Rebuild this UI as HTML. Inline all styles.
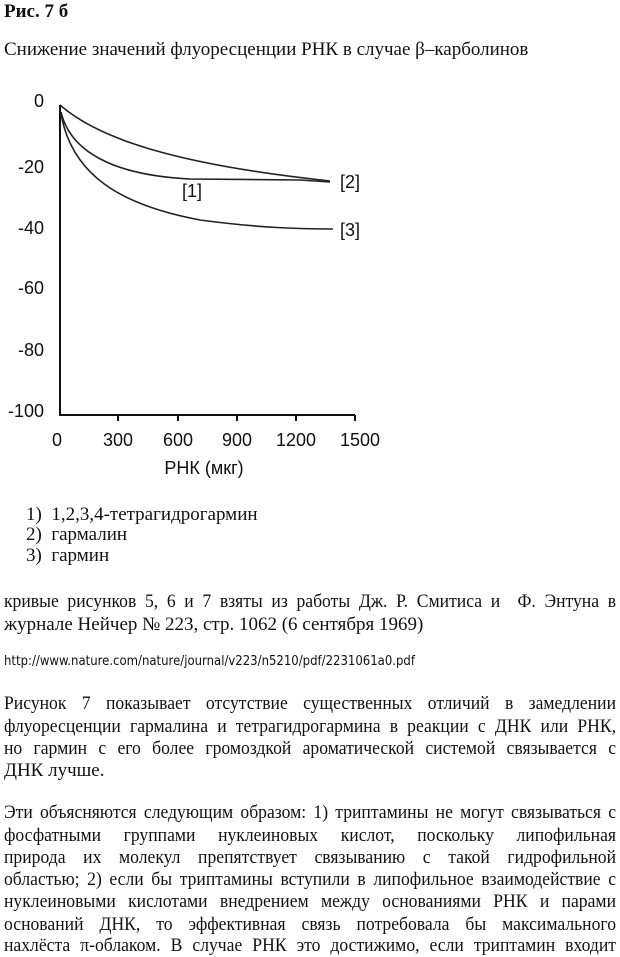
<!DOCTYPE html>
<html><head><meta charset="utf-8"><style>
body{margin:0;width:620px;height:950px;background:#fff;overflow:hidden;position:relative;font-family:"Liberation Serif","DejaVu Serif",serif;color:#111}
.l{position:absolute;left:4px;width:612px;font-size:19px;line-height:22px;white-space:nowrap}
.j{text-align:justify;text-align-last:justify;white-space:normal;width:660px;transform:scaleX(0.9273);transform-origin:0 0;height:22px;overflow:hidden}
svg{position:absolute;left:0;top:0}
</style></head><body>
<div class="l" style="top:1px;font-weight:bold">Рис. 7 б</div>
<div class="l" style="top:39px">Снижение значений флуоресценции РНК в случае β–карболинов</div>
<svg width="620" height="490" font-family="Liberation Sans, Arial, sans-serif" font-size="18" fill="#111">
<g stroke="#111" stroke-width="2" fill="none">
<path d="M60,105 V415 H355"/>
<path d="M118,415v6M178,415v6M237,415v6M296,415v6M355,415v6"/>
</g>
<g stroke="#222" stroke-width="1.6" fill="none">
<path d="M60,105 C100,140 180,165 330,181"/>
<path d="M61,112 C70,150 110,175 190,179 L300,180 L330,182"/>
<path d="M61,114 C72,175 120,205 200,220 C260,228 300,229 333,229"/>
</g>
<g text-anchor="end">
<text x="44" y="107">0</text><text x="44" y="173">-20</text><text x="44" y="234">-40</text>
<text x="44" y="294">-60</text><text x="44" y="356">-80</text><text x="44" y="417">-100</text>
</g>
<g text-anchor="middle">
<text x="57" y="446">0</text><text x="118" y="446">300</text><text x="178" y="446">600</text>
<text x="237" y="446">900</text><text x="296" y="446">1200</text><text x="360" y="446">1500</text>
<text x="204" y="474">РНК (мкг)</text>
</g>
<text x="182" y="197">[1]</text><text x="340" y="188">[2]</text><text x="340" y="236">[3]</text>
</svg>
<div class="l" style="top:504px;left:26px">1)&nbsp; 1,2,3,4-тетрагидрогармин</div>
<div class="l" style="top:524px;left:26px">2)&nbsp; гармалин</div>
<div class="l" style="top:545px;left:26px">3)&nbsp; гармин</div>
<div class="l j" style="top:591px">кривые рисунков 5, 6 и 7 взяты из работы Дж. Р. Смитиса и&nbsp; Ф. Энтуна в</div>
<div class="l" style="top:614px">журнале Нейчер № 223, стр. 1062 (6 сентября 1969)</div>
<div class="l" style="top:651px;font-family:'DejaVu Sans Condensed','Liberation Sans',sans-serif;font-size:13px">http://www.nature.com/nature/journal/v223/n5210/pdf/2231061a0.pdf</div>
<div class="l j" style="top:693px">Рисунок 7 показывает отсутствие существенных отличий в замедлении</div>
<div class="l j" style="top:716px">флуоресценции гармалина и тетрагидрогармина в реакции с ДНК или РНК,</div>
<div class="l j" style="top:738px">но гармин с его более громоздкой ароматической системой связывается с</div>
<div class="l" style="top:760px">ДНК лучше.</div>
<div class="l j" style="top:802px">Эти объясняются следующим образом: 1) триптамины не могут связываться с</div>
<div class="l j" style="top:825px">фосфатными группами нуклеиновых кислот, поскольку липофильная</div>
<div class="l j" style="top:847px">природа их молекул препятствует связыванию с такой гидрофильной</div>
<div class="l j" style="top:869px">областью; 2) если бы триптамины вступили в липофильное взаимодействие с</div>
<div class="l j" style="top:891px">нуклеиновыми кислотами внедрением между основаниями РНК и парами</div>
<div class="l j" style="top:914px">оснований ДНК, то эффективная связь потребовала бы максимального</div>
<div class="l j" style="top:935px">нахлёста π-облаком. В случае РНК это достижимо, если триптамин входит</div>
</body></html>
